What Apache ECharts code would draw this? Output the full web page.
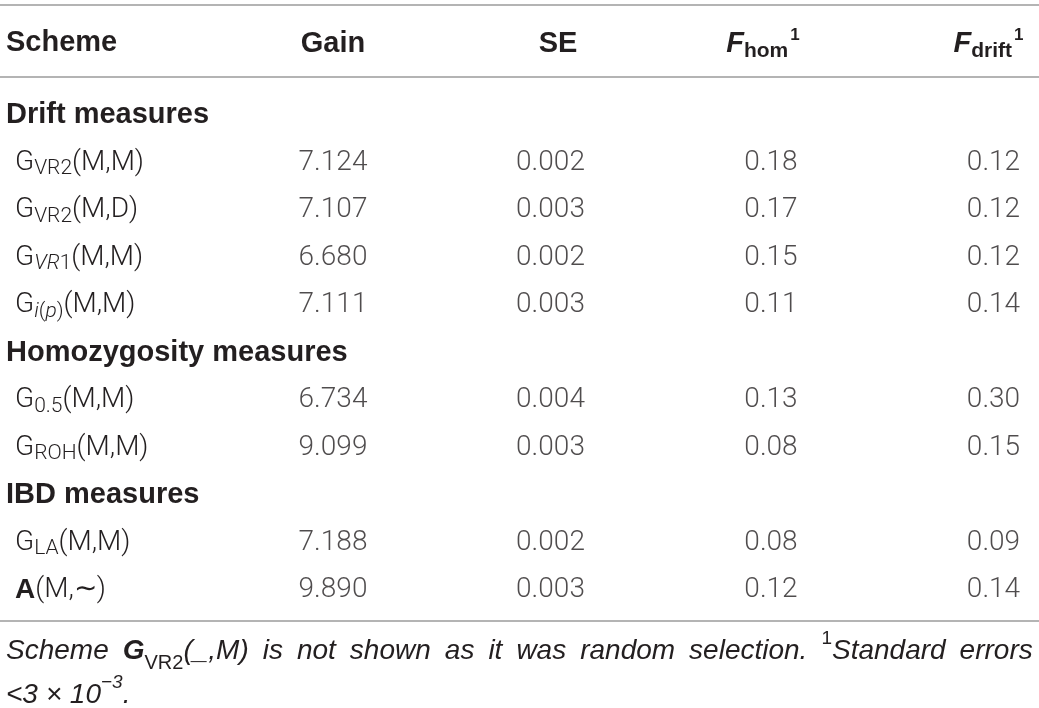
<!DOCTYPE html>
<html>
<head>
<meta charset="utf-8">
<script src="https://cdn.jsdelivr.net/npm/echarts@6/dist/echarts.min.js"></script>
<style>
  html, body { margin: 0; padding: 0; background: #fff; }
  #main { width: 1039px; height: 708px; }
</style>
</head>
<body>
<div id="main"></div>
<script>
// table contents
var columns = ["Gain", "SE", "Fhom", "Fdrift"];
var groupNames = ["Drift measures", "Homozygosity measures", "IBD measures"];
var schemeBase = ["G", "G", "G", "G", "G", "G", "G", "A"];
var schemeSub = ["VR2", "VR2", "VR1", "i(p)", "0.5", "ROH", "LA", ""];
var schemeArgs = ["(M,M)", "(M,D)", "(M,M)", "(M,M)", "(M,M)", "(M,M)", "(M,M)", "(M,\u223C)"];
var schemeGroup = [0, 0, 0, 0, 1, 1, 2, 2];
var gain = [7.124, 7.107, 6.680, 7.111, 6.734, 9.099, 7.188, 9.890];
var se = [0.002, 0.003, 0.002, 0.003, 0.004, 0.003, 0.002, 0.003];
var fHom = [0.18, 0.17, 0.15, 0.11, 0.13, 0.08, 0.08, 0.12];
var fDrift = [0.12, 0.12, 0.12, 0.14, 0.30, 0.15, 0.09, 0.14];

var INK = "#231f20";
var LIGHT = "Roboto, 'Liberation Sans', sans-serif";
var BOLD = "'Liberation Sans', Arial, sans-serif";

// rows of the y axis: a group header followed by its schemes
var rows = [];
var schemeRow = [];
groupNames.forEach(function (g, gi) {
  rows.push("grp" + gi);
  schemeGroup.forEach(function (sg, si) {
    if (sg === gi) {
      schemeRow[si] = rows.length;
      rows.push("sch" + si);
    }
  });
});

// italic parts of some subscripts
var subMarkup = {
  "VR1": "{subi|VR}{sub|1}",
  "i(p)": "{subi|i}{sub|(}{subi|p}{sub|)}"
};

function rowLabel(key) {
  var idx = +key.slice(3);
  if (key.indexOf("grp") === 0) return "{grp|" + groupNames[idx] + "}";
  var base = schemeBase[idx] === "A" ? "{gb|A}" : "{g|" + schemeBase[idx] + "}";
  var sub = schemeSub[idx] ? (subMarkup[schemeSub[idx]] || "{sub|" + schemeSub[idx] + "}") : "";
  return "{ind|}" + base + sub + "{g|" + schemeArgs[idx] + "}";
}

function headLabel(c) {
  if (c === "Gain") return "{hb|Gain}";
  if (c === "SE") return "{pse|}{hb|SE}";
  if (c === "Fhom") return "{hf|F}{hsub|hom}{hsup|1}{phom|}";
  return "{hf|F}{hsub|drift}{hsup|1}";
}

function colSeries(ci, vals, digits, offset) {
  return {
    type: "scatter",
    symbolSize: 1,
    itemStyle: { color: "transparent" },
    silent: true,
    data: vals.map(function (v, i) { return [ci, schemeRow[i], v]; }),
    label: {
      show: true,
      position: "inside",
      offset: offset || [0, 0],
      formatter: function (p) { return p.value[2].toFixed(digits); },
      fontFamily: LIGHT,
      fontWeight: 300,
      fontSize: 28,
      color: INK
    }
  };
}

// footnote line 1, words spread to the full width like the justified original
var noteWords = [
  "{i|Scheme}", "{gb|G}{fsub|VR2}{i|(_,M)}", "{i|is}", "{i|not}", "{i|shown}", "{i|as}", "{i|it}",
  "{i|was}", "{i|random}", "{i|selection.}", "{sup|1}{i|Standard}", "{i|errors}"
];
var noteGap = "{gap|}";

var myChart = echarts.init(document.getElementById("main"));

var option = {
  animation: false,
  backgroundColor: "#fff",
  grid: { left: 333, right: 50.5, top: 91.25, bottom: 94 },
  xAxis: {
    type: "category",
    position: "top",
    data: columns,
    boundaryGap: false,
    axisLine: { show: false },
    axisTick: { show: false },
    splitLine: { show: false },
    axisLabel: {
      interval: 0,
      margin: 47,
      verticalAlign: "middle",
      formatter: headLabel,
      rich: {
        hb: { fontFamily: BOLD, fontWeight: "bold", fontSize: 29, color: INK, lineHeight: 34 },
        hf: { fontFamily: BOLD, fontWeight: "bold", fontStyle: "italic", fontSize: 29, color: INK, lineHeight: 34 },
        hsub: { fontFamily: BOLD, fontWeight: "bold", fontSize: 21, color: INK, lineHeight: 22, verticalAlign: "bottom" },
        hsup: { fontFamily: BOLD, fontWeight: "bold", fontSize: 17, color: INK, lineHeight: 17, verticalAlign: "top", padding: [0, 0, 0, 2] },
        pse: { width: 13 },
        phom: { width: 14 }
      }
    }
  },
  yAxis: {
    type: "category",
    inverse: true,
    data: rows,
    axisLine: { show: false },
    axisTick: { show: false },
    splitLine: { show: false },
    axisLabel: {
      interval: 0,
      align: "left",
      margin: 327,
      formatter: rowLabel,
      rich: {
        grp: { fontFamily: BOLD, fontWeight: "bold", fontSize: 29, color: INK, lineHeight: 34 },
        ind: { width: 9 },
        g: { fontFamily: LIGHT, fontWeight: 300, fontSize: 28, color: INK, lineHeight: 34 },
        gb: { fontFamily: BOLD, fontWeight: "bold", fontSize: 28, color: INK, lineHeight: 34 },
        sub: { fontFamily: LIGHT, fontWeight: 300, fontSize: 21, color: INK, lineHeight: 20, verticalAlign: "bottom" },
        subi: { fontFamily: LIGHT, fontWeight: 300, fontStyle: "italic", fontSize: 21, color: INK, lineHeight: 20, verticalAlign: "bottom" }
      }
    }
  },
  series: [
    colSeries(0, gain, 3),
    colSeries(1, se, 3, [-1, 0]),
    colSeries(2, fHom, 2, [1, 0]),
    colSeries(3, fDrift, 2, [5, 0])
  ],
  graphic: [
    { type: "line", shape: { x1: 0, y1: 5, x2: 1039, y2: 5 }, style: { stroke: "#9b9b9b", lineWidth: 1.5 } },
    { type: "line", shape: { x1: 0, y1: 77, x2: 1039, y2: 77 }, style: { stroke: "#9b9b9b", lineWidth: 1.5 } },
    { type: "line", shape: { x1: 0, y1: 621, x2: 1039, y2: 621 }, style: { stroke: "#9b9b9b", lineWidth: 1.5 } },
    {
      type: "text", left: 6, top: 28,
      style: { text: "Scheme", font: "bold 29px 'Liberation Sans', Arial, sans-serif", fill: INK }
    },
    {
      type: "text", left: 6, top: 629,
      style: {
        text: noteWords.join(noteGap) + "\n" + "{i|<3 \u00D7 10}{supi|\u22123}{i|.}",
        rich: {
          gap: { width: 14 },
          i: { fontFamily: BOLD, fontStyle: "italic", fontSize: 28, fill: INK, lineHeight: 44 },
          gb: { fontFamily: BOLD, fontWeight: "bold", fontStyle: "italic", fontSize: 28, fill: INK, lineHeight: 44 },
          fsub: { fontFamily: BOLD, fontSize: 20, fill: INK, lineHeight: 32, verticalAlign: "bottom" },
          sup: { fontFamily: BOLD, fontSize: 19, fill: INK, lineHeight: 24, verticalAlign: "top" },
          supi: { fontFamily: BOLD, fontStyle: "italic", fontSize: 19, fill: INK, lineHeight: 24, verticalAlign: "top" }
        }
      }
    }
  ]
};

myChart.setOption(option);
</script>
</body>
</html>
